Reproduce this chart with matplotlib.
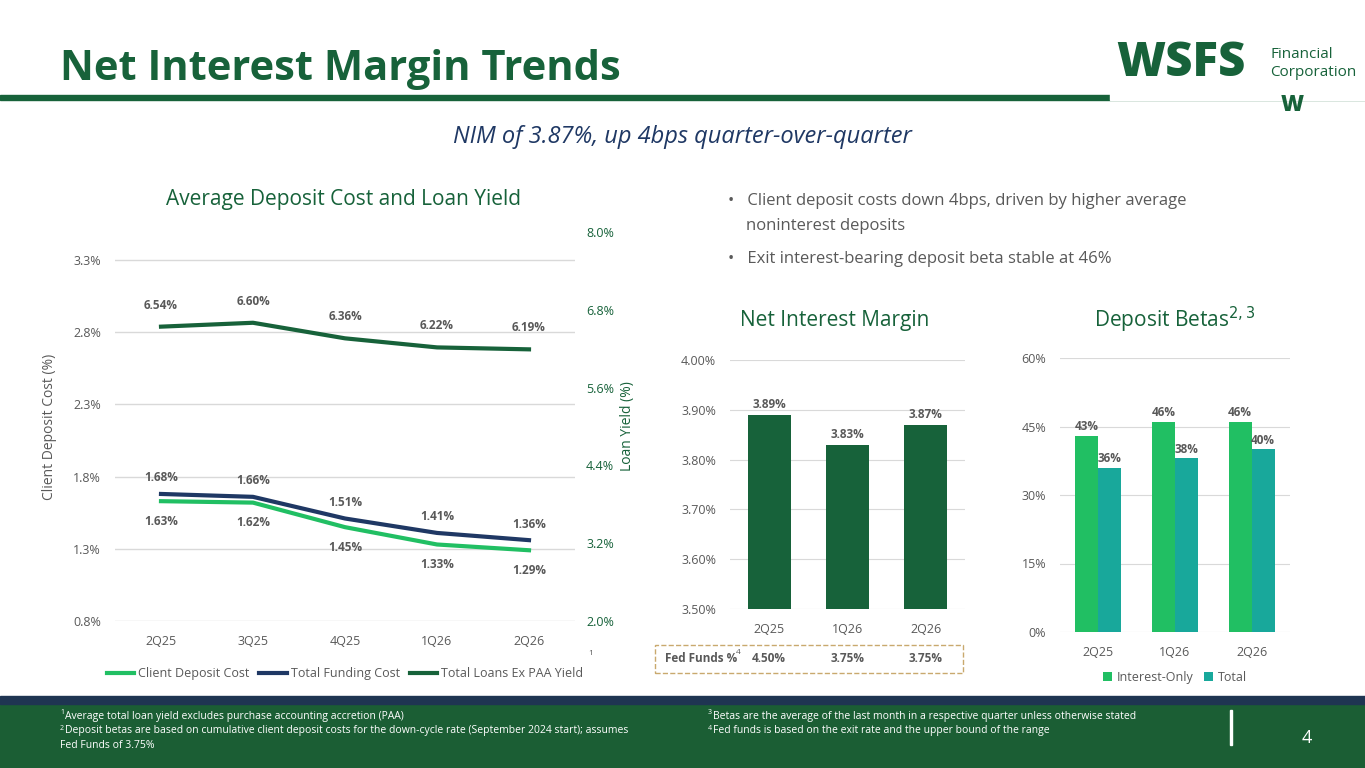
import matplotlib
matplotlib.use("Agg")
import matplotlib.pyplot as plt
from matplotlib.patches import Rectangle
from matplotlib.ticker import FuncFormatter
import numpy as np

quarters = ["2Q25", "3Q25", "4Q25", "1Q26", "2Q26"]
client_cost = [1.63, 1.62, 1.45, 1.33, 1.29]
funding_cost = [1.68, 1.66, 1.51, 1.41, 1.36]
loan_yield = [6.54, 6.60, 6.36, 6.22, 6.19]
nim_q = ["2Q25", "1Q26", "2Q26"]
nim = [3.89, 3.83, 3.87]
fed_funds = ["4.50%", "3.75%", "3.75%"]
beta_q = ["2Q25", "1Q26", "2Q26"]
beta_io = [43, 46, 46]
beta_total = [36, 38, 40]

W, H = 1365, 768
plt.rcParams['font.family'] = ['Open Sans', 'DejaVu Sans']
fig = plt.figure(figsize=(W/100, H/100), dpi=100)
DG = "#17623a"; NAVY = "#1f3864"; LG = "#21bf63"; TEAL = "#18a89b"; GR = "#595959"

def ax_at(x0, y0, x1, y1):
    return fig.add_axes([x0/W, 1-y1/H, (x1-x0)/W, (y1-y0)/H])

def fx(x): return x/W
def fy(y): return 1-y/H

# header
fig.text(fx(60), fy(70), "Net Interest Margin Trends", fontsize=30, fontweight="bold", color=DG, va="center")
fig.add_artist(Rectangle((0, fy(100)), 1, 5/H, color=DG, transform=fig.transFigure))
fig.add_artist(Rectangle((fx(1110), fy(100)), fx(255), 60/H, color="white", transform=fig.transFigure))
fig.text(fx(1116), fy(64), "WSFS", fontsize=34, fontweight="black", color=DG, va="center")
fig.text(fx(1270), fy(54), "Financial", fontsize=11, color=DG, va="center")
fig.text(fx(1270), fy(73), "Corporation", fontsize=11, color=DG, va="center")
fig.text(fx(1292), fy(105), "W", fontsize=16, fontweight="black", color=DG, ha="center", va="center")
fig.text(fx(682), fy(137), "NIM of 3.87%, up 4bps quarter-over-quarter", fontsize=17, style="italic", color=NAVY, ha="center", va="center")

# left chart
fig.text(fx(343), fy(200), "Average Deposit Cost and Loan Yield", fontsize=15, color=DG, ha="center", va="center")
ax = ax_at(115, 232, 575, 621)
ymax_l = 3.3 + 28/72*0.5
ax.set_ylim(0.8, ymax_l); ax.set_xlim(-0.5, 4.5)
ax.set_yticks([0.8, 1.3, 1.8, 2.3, 2.8, 3.3])
ax.yaxis.set_major_formatter(FuncFormatter(lambda v, p: f"{v:.1f}%"))
ax.grid(axis="y", color="#d9d9d9", lw=1); ax.set_axisbelow(True)
for s in ax.spines.values(): s.set_visible(False)
ax.tick_params(length=0, labelsize=9, colors=GR, pad=10)
ax.set_xticks(range(5)); ax.set_xticklabels(quarters)
ax.set_ylabel("Client Deposit Cost (%)", fontsize=10, color=GR, labelpad=12)
l1, = ax.plot(range(5), client_cost, color=LG, lw=3, label="Client Deposit Cost")
l2, = ax.plot(range(5), funding_cost, color=NAVY, lw=3, label="Total Funding Cost")
for i in range(5):
    ax.annotate(f"{client_cost[i]:.2f}%", (i, client_cost[i]), xytext=(0, -17), textcoords="offset points", ha="center", fontsize=8.5, fontweight="bold", color=GR)
    ax.annotate(f"{funding_cost[i]:.2f}%", (i, funding_cost[i]), xytext=(0, 9), textcoords="offset points", ha="center", fontsize=8.5, fontweight="bold", color=GR)
ax2 = ax.twinx()
ax2.set_ylim(2.0, 8.0)
ax2.set_yticks([2.0, 3.2, 4.4, 5.6, 6.8, 8.0])
ax2.yaxis.set_major_formatter(FuncFormatter(lambda v, p: f"{v:.1f}%"))
for s in ax2.spines.values(): s.set_visible(False)
ax2.tick_params(length=0, labelsize=9, colors=DG, pad=8)
ax2.set_ylabel("Loan Yield (%)", fontsize=10, color=DG)
l3, = ax2.plot(range(5), loan_yield, color=DG, lw=3, label="Total Loans Ex PAA Yield")
for i in range(5):
    ax2.annotate(f"{loan_yield[i]:.2f}%", (i, loan_yield[i]), xytext=(0, 13), textcoords="offset points", ha="center", fontsize=8.5, fontweight="bold", color=GR)
leg = ax.legend(handles=[l1, l2, l3], loc="upper center", bbox_to_anchor=(0.5, -0.09), ncol=3, frameon=False, fontsize=9, handlelength=2.2, columnspacing=0.8, handletextpad=0.3)
for t in leg.get_texts(): t.set_color(GR)
fig.text(fx(588), fy(655), "1", fontsize=6, color=GR)

# bullets
fig.text(fx(728), fy(201), "•   Client deposit costs down 4bps, driven by higher average", fontsize=12, color=GR, va="center")
fig.text(fx(746), fy(226), "noninterest deposits", fontsize=12, color=GR, va="center")
fig.text(fx(728), fy(259), "•   Exit interest-bearing deposit beta stable at 46%", fontsize=12, color=GR, va="center")

# NIM
fig.text(fx(835), fy(320), "Net Interest Margin", fontsize=15, color=DG, ha="center", va="center")
axn = ax_at(730, 360, 965, 609)
axn.bar(range(3), nim, width=0.55, color=DG)
axn.set_ylim(3.5, 4.0); axn.set_xlim(-0.5, 2.5)
axn.set_yticks([3.5, 3.6, 3.7, 3.8, 3.9, 4.0])
axn.yaxis.set_major_formatter(FuncFormatter(lambda v, p: f"{v:.2f}%"))
axn.set_xticks(range(3)); axn.set_xticklabels(nim_q)
axn.grid(axis="y", color="#d9d9d9"); axn.set_axisbelow(True)
for s in axn.spines.values(): s.set_visible(False)
axn.tick_params(length=0, labelsize=9, colors=GR, pad=10)
for i, v in enumerate(nim):
    axn.annotate(f"{v:.2f}%", (i, v), xytext=(0, 5), textcoords="offset points", ha="center", fontsize=8.5, fontweight="bold", color=GR)
fig.add_artist(Rectangle((fx(655), fy(673)), fx(308), 28/H, fill=False, ls="--", ec="#c9a96e", transform=fig.transFigure))
fig.text(fx(665), fy(659), "Fed Funds %", fontsize=8.5, fontweight="bold", color=GR, va="center")
fig.text(fx(736), fy(653), "4", fontsize=6, color=GR, va="center")
for i, t in enumerate(fed_funds):
    xd = axn.transData.transform((i, 0))[0] / fig.bbox.width
    fig.text(xd, fy(659), t, fontsize=8.5, fontweight="bold", color=GR, ha="center", va="center")

# betas
fig.text(fx(1175), fy(320), "Deposit Betas$^{2,3}$", fontsize=15, color=DG, ha="center", va="center")
axb = ax_at(1060, 358, 1290, 632)
xb = np.arange(3); w = 0.3
axb.bar(xb - w/2, beta_io, w, color=LG, label="Interest-Only")
axb.bar(xb + w/2, beta_total, w, color=TEAL, label="Total")
axb.set_ylim(0, 60); axb.set_xlim(-0.5, 2.5)
axb.set_yticks([0, 15, 30, 45, 60])
axb.yaxis.set_major_formatter(FuncFormatter(lambda v, p: f"{v:.0f}%"))
axb.set_xticks(xb); axb.set_xticklabels(beta_q)
axb.grid(axis="y", color="#d9d9d9"); axb.set_axisbelow(True)
for s in axb.spines.values(): s.set_visible(False)
axb.tick_params(length=0, labelsize=9, colors=GR, pad=10)
for i in range(3):
    axb.annotate(f"{beta_io[i]}%", (i - w/2, beta_io[i]), xytext=(0, 4), textcoords="offset points", ha="center", fontsize=8.5, fontweight="bold", color=GR)
    axb.annotate(f"{beta_total[i]}%", (i + w/2, beta_total[i]), xytext=(0, 4), textcoords="offset points", ha="center", fontsize=8.5, fontweight="bold", color=GR)
lb = axb.legend(loc="upper center", bbox_to_anchor=(0.5, -0.1), ncol=2, frameon=False, fontsize=9, handlelength=0.7, handletextpad=0.4, columnspacing=0.8)
for t in lb.get_texts(): t.set_color(GR)

# footer
fig.add_artist(Rectangle((0, 0), 1, 64/H, color="#1b5e34", transform=fig.transFigure))
fig.add_artist(Rectangle((0, fy(704)), 1, 8/H, color="#1f3552", transform=fig.transFigure))
fc = "white"; fs = 7.5
def ftxt(x, y, sup, s):
    if sup:
        fig.text(fx(x), fy(y - 3), sup, fontsize=5, color=fc, va="center")
        fig.text(fx(x + 5), fy(y), s, fontsize=fs, color=fc, va="center")
    else:
        fig.text(fx(x), fy(y), s, fontsize=fs, color=fc, va="center")
ftxt(60, 716, "1", "Average total loan yield excludes purchase accounting accretion (PAA)")
ftxt(60, 731, "2", "Deposit betas are based on cumulative client deposit costs for the down-cycle rate (September 2024 start); assumes")
ftxt(60, 746, None, "Fed Funds of 3.75%")
ftxt(708, 716, "3", "Betas are the average of the last month in a respective quarter unless otherwise stated")
ftxt(708, 731, "4", "Fed funds is based on the exit rate and the upper bound of the range")
fig.add_artist(Rectangle((fx(1230), fy(745)), 1.5/W, 35/H, color="white", transform=fig.transFigure))
fig.text(fx(1302), fy(738), "4", fontsize=13, color=fc, va="center")

fig.savefig("out.png", dpi=100)
